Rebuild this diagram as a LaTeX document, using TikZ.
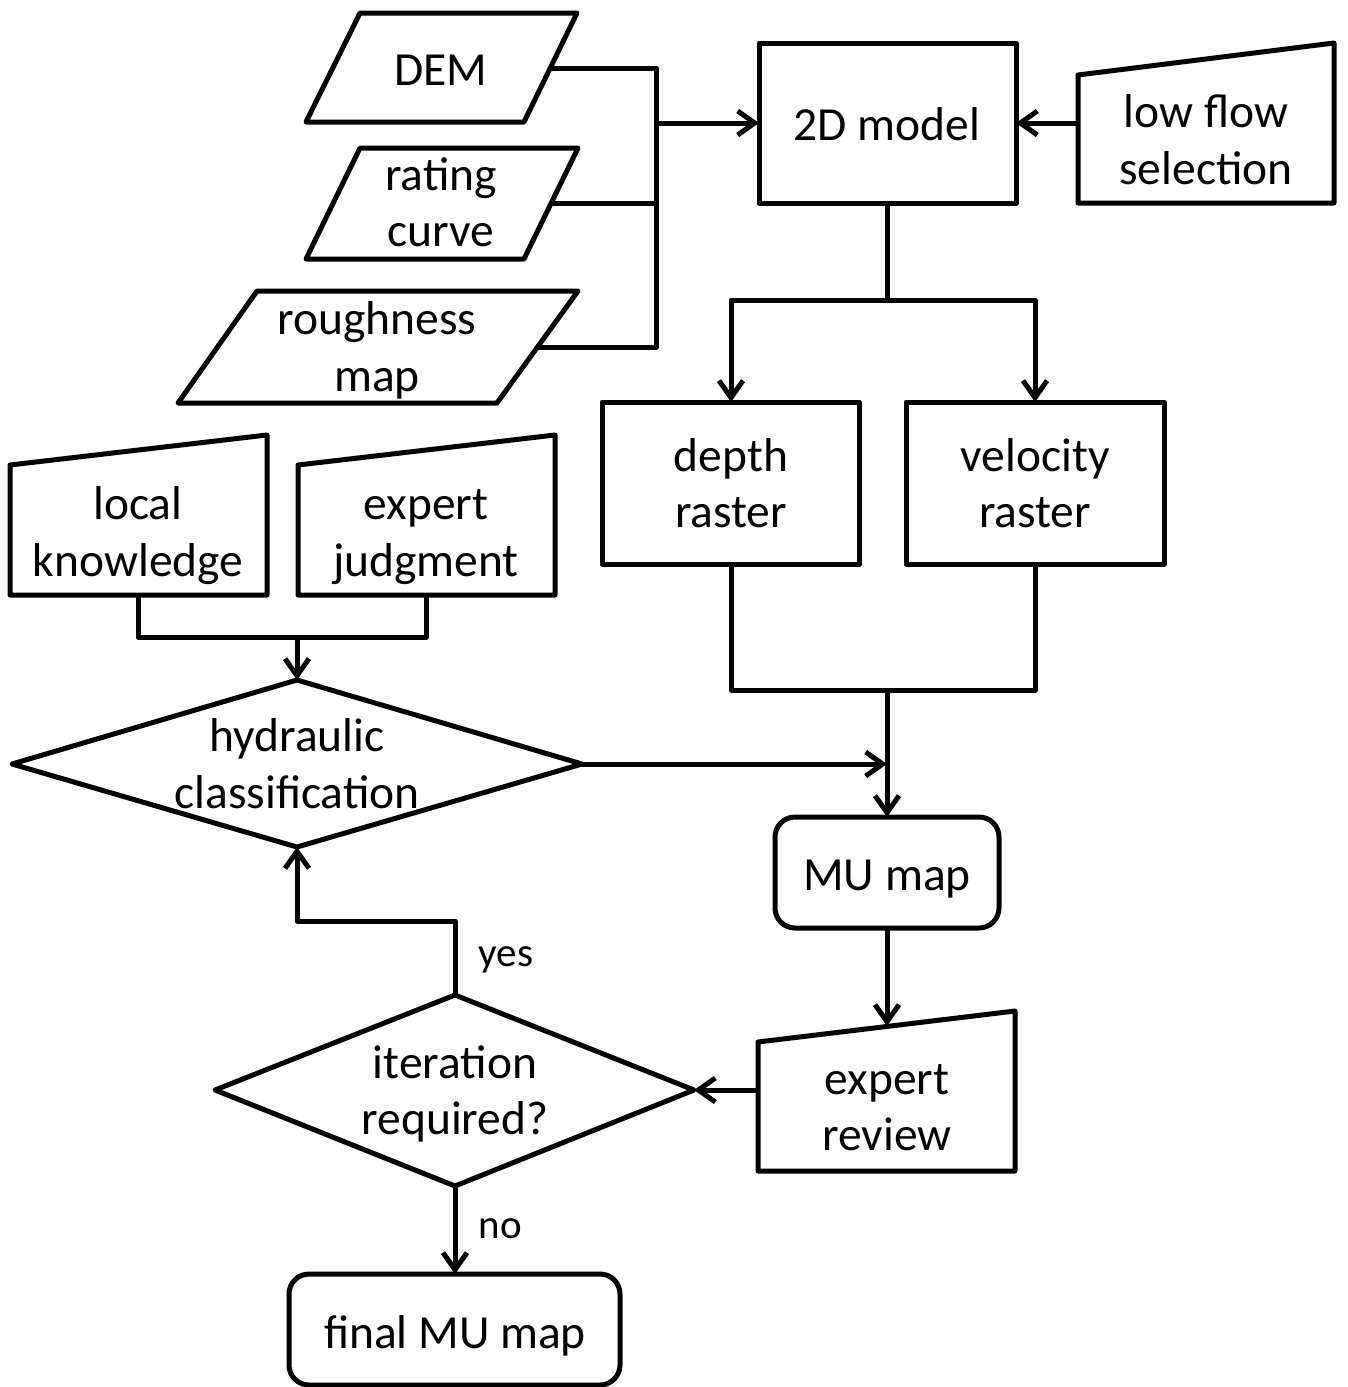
\documentclass[tikz,border=0pt]{standalone}
\usepackage{fontspec}
\setmainfont{Carlito}
\usetikzlibrary{arrows.meta}
\begin{document}
\begin{tikzpicture}[x=1pt,y=-1pt, line width=5pt, line join=round,
  txt/.style={align=center, inner sep=0pt, font=\fontsize{47.5}{56.5}\selectfont},
  lbl/.style={inner sep=0pt, anchor=base west, font=\fontsize{41}{48}\selectfont},
  arr/.style={-{Straight Barb[length=17pt,width=24pt]}}]
\useasboundingbox (0,0) rectangle (1347,1387);

% ---------- shapes ----------
% data inputs (parallelograms)
\draw (306,122) -- (360,13) -- (577,13) -- (524,122) -- cycle;
\draw (306,259) -- (360,148) -- (578,148) -- (524,259) -- cycle;
\draw (178,403) -- (257,291) -- (578,291) -- (497,403) -- cycle;
% process boxes
\draw (759,43) rectangle (1016,203);
\draw (602,402) rectangle (859,564);
\draw (906,402) rectangle (1164,564);
% manual inputs
\draw (1078,203) -- (1078,75) -- (1334,43) -- (1334,203) -- cycle;
\draw (10,595) -- (10,465) -- (267,435) -- (267,595) -- cycle;
\draw (298,595) -- (298,465) -- (555,435) -- (555,595) -- cycle;
\draw (758,1171) -- (758,1042) -- (1015,1011) -- (1015,1171) -- cycle;
% decisions
\draw (12,764) -- (297,680) -- (582,764) -- (297,847) -- cycle;
\draw (215,1090) -- (455,995) -- (694,1090) -- (455,1186) -- cycle;
% terminals
\draw[rounded corners=20pt] (775,817) rectangle (999,928);
\draw[rounded corners=20pt] (289,1274) rectangle (620,1385);

% ---------- texts ----------
\node[txt] (dem) at (441,73.8) {DEM\strut};
\node[txt] (rating) at (441,207.3) {rating\strut\\curve\strut};
\node[txt] (rough) at (377,351.8) {roughness\strut\\map\strut};
\node[txt] (model) at (887,128.8) {2D model\strut};
\node[txt] (lowflow) at (1206,144.8) {low flow\strut\\selection\strut};
\node[txt] (depth) at (731,488) {depth\strut\\raster\strut};
\node[txt] (velo) at (1035,488) {velocity\strut\\raster\strut};
\node[txt] (local) at (138,536.8) {local\strut\\knowledge\strut};
\node[txt] (judg) at (426,536.8) {expert\strut\\judgment\strut};
\node[txt] (hydro) at (297,768.8) {hydraulic\strut\\classification\strut};
\node[txt] (mu) at (887,878.8) {MU map\strut};
\node[txt] (review) at (887,1111.3) {expert\strut\\review\strut};
\node[txt] (iter) at (455,1095.3) {iteration\strut\\required?\strut};
\node[txt] (final) at (455,1336.8) {final MU map\strut};
\node[lbl] (yes) at (476,966) {yes};
\node[lbl] (no) at (476,1238) {no};

% ---------- connection points ----------
\coordinate (demR) at (550,68);
\coordinate (ratingR) at (551,203);
\coordinate (roughR) at (537,347);
\coordinate (busB) at (656,347);
\coordinate (busM) at (656,123);
\coordinate (modelW) at (759,123);
\coordinate (modelE) at (1016,123);
\coordinate (modelS) at (887,203);
\coordinate (lowW) at (1078,123);
\coordinate (split) at (887,300);
\coordinate (depthN) at (731,402);
\coordinate (veloN) at (1035,402);
\coordinate (depthS) at (731,564);
\coordinate (veloS) at (1035,564);
\coordinate (join) at (887,690);
\coordinate (merge) at (887,764);
\coordinate (muN) at (887,817);
\coordinate (muS) at (887,928);
\coordinate (localS) at (138,595);
\coordinate (judgS) at (426,595);
\coordinate (kjoin) at (297,637);
\coordinate (hydroN) at (297,680);
\coordinate (hydroE) at (582,764);
\coordinate (hydroS) at (297,847);
\coordinate (reviewN) at (887,1026);
\coordinate (reviewW) at (758,1090);
\coordinate (iterE) at (694,1090);
\coordinate (iterN) at (455,995);
\coordinate (iterS) at (455,1186);
\coordinate (loop) at (455,921);
\coordinate (finalN) at (455,1274);

% ---------- connectors ----------
\draw (demR) -| (busB) -- (roughR);
\draw (ratingR) -- (ratingR -| busB);
\draw[arr] (busM) -- (modelW);
\draw[arr] (lowW) -- (modelE);
\draw (modelS) -- (split);
\draw[arr] (split) -| (depthN);
\draw[arr] (split) -| (veloN);
\draw (depthS) |- (join) -| (veloS);
\draw[arr] (join) -- (muN);
\draw[arr] (hydroE) -- (merge);
\draw (localS) |- (kjoin) -| (judgS);
\draw[arr] (kjoin) -- (hydroN);
\draw[arr] (muS) -- (reviewN);
\draw[arr] (reviewW) -- (iterE);
\draw[arr] (iterN) -- (loop) -| (hydroS);
\draw[arr] (iterS) -- (finalN);
\end{tikzpicture}
\end{document}
